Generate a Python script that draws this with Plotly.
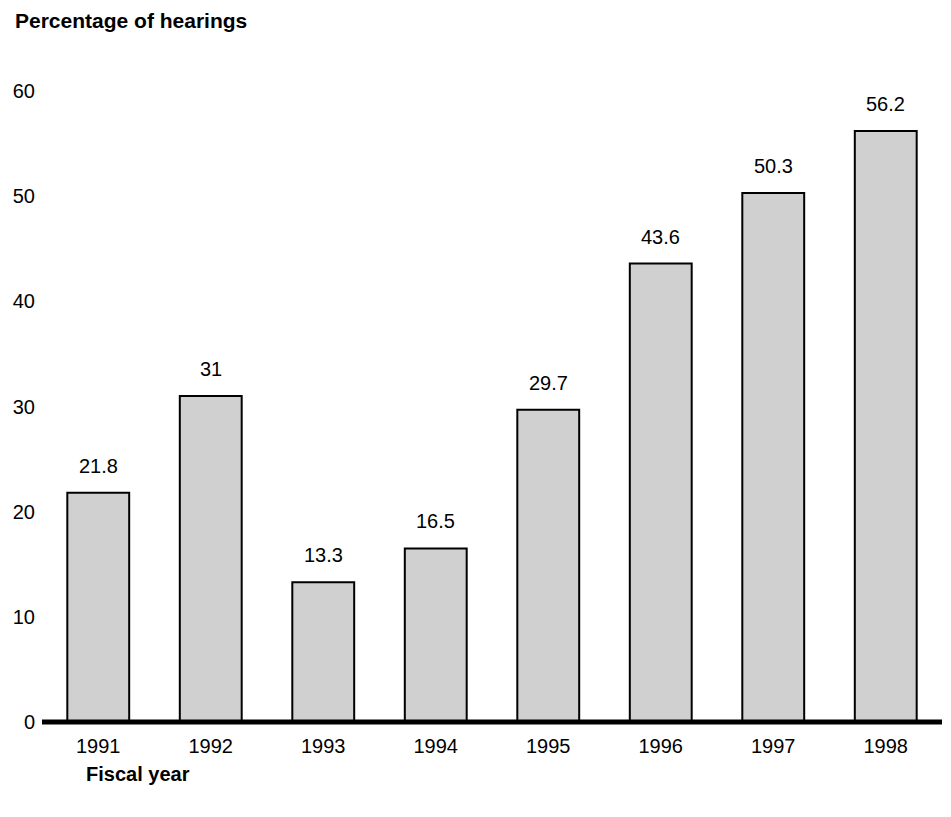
import plotly.graph_objects as go

years = ["1991", "1992", "1993", "1994", "1995", "1996", "1997", "1998"]
values = [21.8, 31, 13.3, 16.5, 29.7, 43.6, 50.3, 56.2]
labels = ["21.8", "31", "13.3", "16.5", "29.7", "43.6", "50.3", "56.2"]
y_ticks = [0, 10, 20, 30, 40, 50, 60]

FONT = "Liberation Sans, Arial, Helvetica, sans-serif"

fig = go.Figure()
fig.add_trace(go.Bar(
    x=list(range(len(years))), y=values,
    marker=dict(color="#d0d0d0", line=dict(color="black", width=2)),
    width=0.55,
    hoverinfo="skip",
))

for i, (v, lab) in enumerate(zip(values, labels)):
    fig.add_annotation(x=i, y=v, xref="x", yref="y", text=lab, showarrow=False,
                       yanchor="bottom", yshift=14,
                       font=dict(family=FONT, size=20, color="black"))

fig.add_shape(type="line", xref="paper", yref="paper", x0=0, x1=1, y0=0, y1=0,
              line=dict(color="black", width=5), layer="above")

fig.add_annotation(text="<b>Percentage of hearings</b>", xref="paper", yref="paper",
                   x=0, y=1, xanchor="left", yanchor="middle", showarrow=False,
                   xshift=-29, yshift=50,
                   font=dict(family=FONT, size=21, color="black"))
fig.add_annotation(text="<b>Fiscal year</b>", xref="paper", yref="paper",
                   x=0, y=0, xanchor="left", yanchor="middle", showarrow=False,
                   xshift=42, yshift=-52,
                   font=dict(family=FONT, size=20, color="black"))

fig.update_layout(
    width=951, height=817,
    margin=dict(l=34, r=17, t=62, b=103),
    paper_bgcolor="white", plot_bgcolor="white",
    showlegend=False,
    font=dict(family=FONT, size=20, color="black"),
    xaxis=dict(range=[-0.5, 7.5], tickvals=list(range(len(years))), ticktext=years,
               showgrid=False, zeroline=False, showline=False, automargin=False,
               ticks="", tickfont=dict(size=20), ticklabelstandoff=10),
    yaxis=dict(range=[0, 62], tickvals=y_ticks, showgrid=False, zeroline=False,
               showline=False, ticks="", tickfont=dict(size=20), ticklabelstandoff=6,
               automargin=False),
)

fig.write_html("out.html")
